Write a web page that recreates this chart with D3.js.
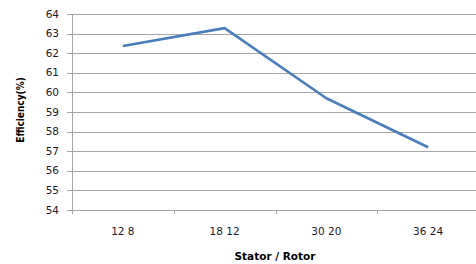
<!DOCTYPE html>
<html>
<head>
<meta charset="utf-8">
<script src="https://cdn.jsdelivr.net/npm/d3@7"></script>
<style>
  html, body { margin: 0; padding: 0; background: #fff; }
  svg { display: block; }
</style>
</head>
<body>
<svg id="chart" width="476" height="264"></svg>
<script>
var categories = ['12 8', '18 12', '30 20', '36 24'];
var efficiency = [62.37, 63.28, 59.7, 57.2];
var yTicks = [54, 55, 56, 57, 58, 59, 60, 61, 62, 63, 64];

var svg = d3.select('#chart');
var plotLeft = 72, plotRight = 479, plotTop = 14, plotBottom = 210;

var x = d3.scaleBand().domain(categories).range([plotLeft, plotRight]);
var y = d3.scaleLinear().domain([54, 64]).range([plotBottom, plotTop]);

// horizontal gridlines
svg.append('g')
    .selectAll('line')
    .data(yTicks)
    .enter().append('line')
    .attr('x1', plotLeft - 5)
    .attr('x2', 476)
    .attr('y1', function(d) { return Math.round(y(d)) + 0.5; })
    .attr('y2', function(d) { return Math.round(y(d)) + 0.5; })
    .attr('stroke', '#a6a6a6')
    .attr('stroke-width', 1);

// y axis line
svg.append('line')
    .attr('x1', plotLeft + 0.5).attr('x2', plotLeft + 0.5)
    .attr('y1', plotTop).attr('y2', plotBottom + 4)
    .attr('stroke', '#a6a6a6');

// x tick marks at band edges
svg.append('g')
    .selectAll('line')
    .data(categories.slice(1))
    .enter().append('line')
    .attr('x1', function(d) { return Math.round(x(d)) + 0.5; })
    .attr('x2', function(d) { return Math.round(x(d)) + 0.5; })
    .attr('y1', plotBottom)
    .attr('y2', plotBottom + 4)
    .attr('stroke', '#a6a6a6');

// y tick labels
svg.append('g')
    .selectAll('text')
    .data(yTicks)
    .enter().append('text')
    .attr('x', 59)
    .attr('y', function(d) { return y(d); })
    .attr('dy', '0.35em')
    .attr('text-anchor', 'end')
    .attr('font-family', 'DejaVu Sans, sans-serif')
    .attr('font-size', 10.5)
    .attr('fill', '#1a1a2e')
    .text(function(d) { return d; });

// x category labels
svg.append('g')
    .selectAll('text')
    .data(categories)
    .enter().append('text')
    .attr('x', function(d) { return x(d) + x.bandwidth() / 2; })
    .attr('y', 231)
    .attr('dy', '0.35em')
    .attr('text-anchor', 'middle')
    .attr('font-family', 'DejaVu Sans, sans-serif')
    .attr('font-size', 10.5)
    .attr('fill', '#1a1a2e')
    .text(function(d) { return d; });

// series line
var line = d3.line()
    .x(function(d, i) { return x(categories[i]) + x.bandwidth() / 2; })
    .y(function(d) { return y(d); });

svg.append('path')
    .datum(efficiency)
    .attr('d', line)
    .attr('fill', 'none')
    .attr('stroke', '#4a7ebb')
    .attr('stroke-width', 2.6)
    .attr('stroke-linejoin', 'round');

// axis titles
svg.append('text')
    .attr('x', 275)
    .attr('y', 256)
    .attr('dy', '0.35em')
    .attr('text-anchor', 'middle')
    .attr('font-family', 'DejaVu Sans, sans-serif')
    .attr('font-weight', 'bold')
    .attr('font-size', 10.5)
    .attr('fill', '#000')
    .text('Stator / Rotor');

svg.append('text')
    .attr('transform', 'translate(20,110) rotate(-90)')
    .attr('dy', '0.35em')
    .attr('text-anchor', 'middle')
    .attr('font-family', 'DejaVu Sans Condensed, DejaVu Sans, sans-serif')
    .attr('font-weight', 'bold')
    .attr('font-size', 10)
    .attr('fill', '#000')
    .text('Efficiency(%)');
</script>
</body>
</html>
